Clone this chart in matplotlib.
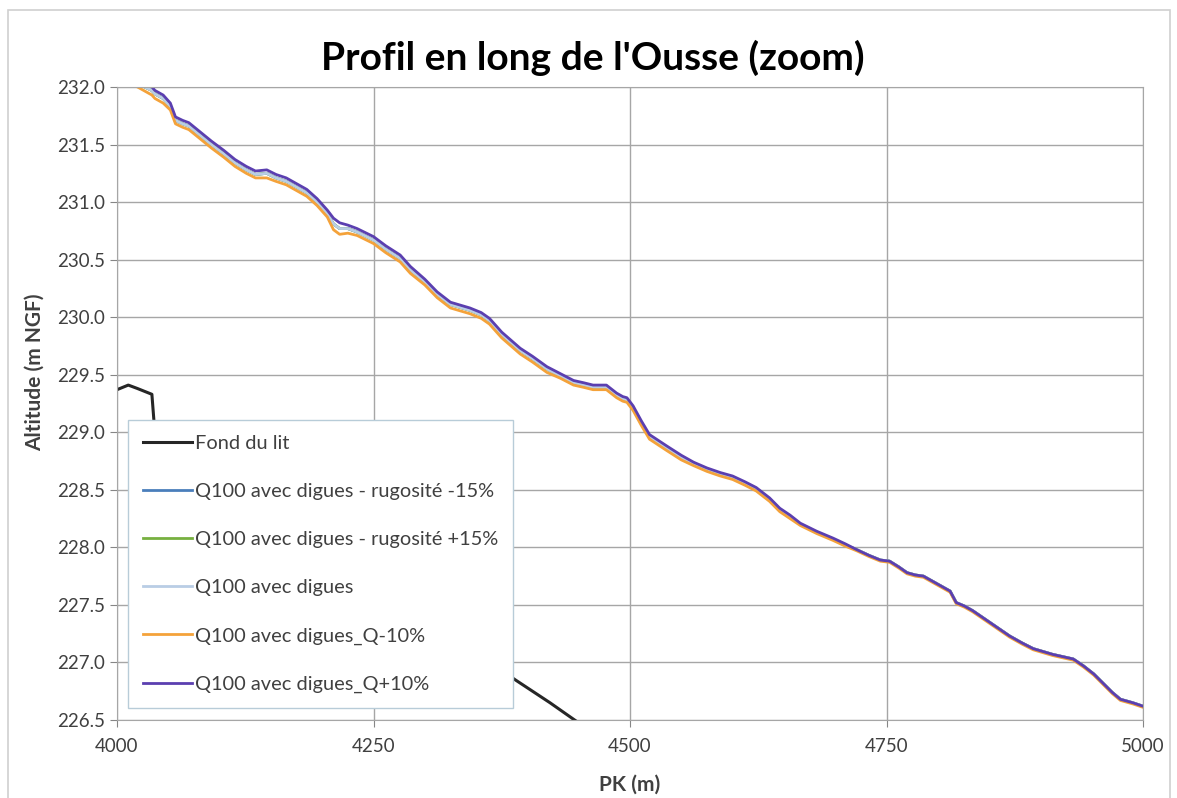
import matplotlib
matplotlib.use("Agg")
import matplotlib.pyplot as plt
from matplotlib.patches import Rectangle

# PK grid shared by the water-level profiles
pk = [4020, 4034, 4037, 4045, 4052, 4057, 4064, 4070, 4081, 4092, 4104, 4115, 4126, 4135,
      4146, 4155, 4165, 4175, 4185, 4195, 4205, 4211, 4217, 4225, 4234, 4250, 4262, 4276,
      4286, 4300, 4312, 4325, 4344, 4355, 4363, 4375, 4393, 4405, 4419, 4432, 4445, 4455,
      4464, 4477, 4487, 4493, 4497, 4503, 4511, 4519, 4536, 4550, 4562, 4575, 4588, 4600,
      4612, 4623, 4636, 4646, 4656, 4666, 4682, 4698, 4710, 4721, 4733, 4744, 4753, 4762,
      4770, 4778, 4786, 4800, 4812, 4818, 4826, 4834, 4852, 4870, 4882, 4893, 4912, 4932,
      4942, 4952, 4961, 4970, 4978, 4990, 5000]
# Q100 avec digues_Q+10% (purple, on top)
z_q_plus = [232.06, 232.00, 231.97, 231.93, 231.86, 231.74, 231.71, 231.69, 231.61, 231.53,
            231.45, 231.37, 231.31, 231.27, 231.28, 231.24, 231.21, 231.16, 231.11, 231.03,
            230.93, 230.86, 230.82, 230.80, 230.77, 230.70, 230.62, 230.54, 230.44, 230.33,
            230.22, 230.13, 230.08, 230.04, 229.99, 229.87, 229.73, 229.66, 229.57, 229.51,
            229.45, 229.43, 229.41, 229.41, 229.34, 229.31, 229.30, 229.23, 229.10, 228.98,
            228.88, 228.80, 228.74, 228.69, 228.65, 228.62, 228.57, 228.52, 228.43, 228.34,
            228.28, 228.21, 228.14, 228.08, 228.03, 227.98, 227.93, 227.89, 227.88, 227.83,
            227.78, 227.76, 227.75, 227.68, 227.62, 227.52, 227.49, 227.45, 227.34, 227.23,
            227.17, 227.12, 227.07, 227.03, 226.97, 226.90, 226.82, 226.74, 226.68, 226.65,
            226.62]
# Q100 avec digues_Q-10% (orange)
z_q_minus = [232.00, 231.93, 231.90, 231.86, 231.80, 231.68, 231.65, 231.63, 231.55, 231.47,
             231.39, 231.31, 231.25, 231.21, 231.21, 231.18, 231.15, 231.10, 231.05, 230.97,
             230.87, 230.76, 230.72, 230.73, 230.71, 230.64, 230.56, 230.48, 230.38, 230.28,
             230.17, 230.08, 230.03, 229.99, 229.94, 229.82, 229.68, 229.61, 229.52, 229.47,
             229.41, 229.39, 229.37, 229.37, 229.30, 229.27, 229.26, 229.19, 229.06, 228.94,
             228.84, 228.76, 228.71, 228.66, 228.62, 228.59, 228.54, 228.49, 228.40, 228.31,
             228.25, 228.19, 228.12, 228.06, 228.01, 227.97, 227.92, 227.88, 227.87, 227.82,
             227.77, 227.75, 227.74, 227.67, 227.61, 227.51, 227.48, 227.44, 227.33, 227.22,
             227.16, 227.11, 227.06, 227.02, 226.96, 226.89, 226.81, 226.73, 226.67, 226.64,
             226.61]
# Q100 avec digues (light blue) - the two rugosity runs sit on top of it
z_base = [232.03, 231.97, 231.94, 231.90, 231.83, 231.71, 231.68, 231.66, 231.58, 231.50,
          231.42, 231.34, 231.28, 231.24, 231.25, 231.21, 231.18, 231.13, 231.08, 231.00,
          230.90, 230.81, 230.77, 230.77, 230.74, 230.67, 230.59, 230.51, 230.41, 230.31,
          230.20, 230.11, 230.06, 230.02, 229.97, 229.85, 229.71, 229.64, 229.55, 229.49,
          229.43, 229.41, 229.39, 229.39, 229.32, 229.29, 229.28, 229.21, 229.08, 228.96,
          228.86, 228.78, 228.73, 228.68, 228.64, 228.61, 228.56, 228.51, 228.42, 228.33,
          228.27, 228.20, 228.13, 228.07, 228.02, 227.98, 227.93, 227.89, 227.88, 227.83,
          227.78, 227.76, 227.75, 227.68, 227.62, 227.52, 227.49, 227.45, 227.34, 227.23,
          227.17, 227.12, 227.07, 227.03, 226.97, 226.90, 226.82, 226.74, 226.68, 226.65,
          226.62]
z_rug_minus = z_base
z_rug_plus = z_base

# Fond du lit (mostly hidden behind the legend)
pk_fond = [4000, 4011, 4020, 4034, 4036, 4045, 4100, 4160, 4220, 4280, 4340, 4388, 4405,
           4422, 4446, 4470]
z_fond = [229.37, 229.41, 229.38, 229.33, 229.10, 228.95, 228.60, 228.25, 227.90, 227.55,
          227.15, 226.85, 226.75, 226.65, 226.50, 226.35]

labels = ["Fond du lit", "Q100 avec digues - rugosité -15%", "Q100 avec digues - rugosité +15%",
          "Q100 avec digues", "Q100 avec digues_Q-10%", "Q100 avec digues_Q+10%"]
colors = ["#262626", "#4a7ebb", "#77b040", "#b9cde5", "#f4a23a", "#5b3fb0"]

plt.rcParams['font.family'] = ['Lato', 'DejaVu Sans']

fig = plt.figure(figsize=(11.77, 7.98), dpi=100)
ax = fig.add_axes([117/1177, 1-720/798, 1026/1177, 633/798])

ax.plot(pk_fond, z_fond, color=colors[0], lw=2.2, label=labels[0])
ax.plot(pk, z_rug_minus, color=colors[1], lw=2.0, label=labels[1])
ax.plot(pk, z_rug_plus, color=colors[2], lw=2.0, label=labels[2])
ax.plot(pk, z_base, color=colors[3], lw=2.0, label=labels[3])
ax.plot(pk, z_q_minus, color=colors[4], lw=2.0, label=labels[4])
ax.plot(pk, z_q_plus, color=colors[5], lw=2.0, label=labels[5])

ax.set_xlim(4000, 5000)
ax.set_ylim(226.5, 232.0)
ax.set_xticks([4000, 4250, 4500, 4750, 5000])
ax.set_yticks([226.5 + 0.5*i for i in range(12)])
ax.set_yticklabels([f"{226.5 + 0.5*i:.1f}" for i in range(12)])
ax.grid(True, color='#a6a6a6', lw=1.0)
ax.set_axisbelow(True)
for s in ax.spines.values():
    s.set_color('#a6a6a6')
ax.tick_params(axis='both', colors='#868686', labelcolor='#404040', labelsize=13.5,
               length=5, direction='out')
ax.tick_params(axis='x', pad=8)

ax.set_title("Profil en long de l'Ousse (zoom)", fontsize=28, fontweight='bold', pad=12,
             x=0.464)
ax.set_xlabel("PK (m)", fontsize=15, fontweight='bold', color='#404040')
ax.set_ylabel("Altitude (m NGF)", fontsize=15, fontweight='bold', color='#404040')
ax.xaxis.set_label_coords(0.5, -0.087)
ax.yaxis.set_label_coords(-0.070, 0.55)

leg = ax.legend(loc='lower left', bbox_to_anchor=(0.0107, 0.019), fontsize=14.4,
                frameon=True, fancybox=False, framealpha=1, edgecolor='#b8ccd8',
                labelspacing=1.55, handlelength=2.45, handletextpad=0.15,
                borderpad=0.75, borderaxespad=0)
for t in leg.get_texts():
    t.set_color('#404040')

fig.patches.append(Rectangle((8/1177, -0.01), 1162/1177, 1 - 10/798 + 0.01,
                             transform=fig.transFigure, fill=False,
                             edgecolor='#d0d0d0', lw=1.2))

fig.savefig('out.png', dpi=100)
